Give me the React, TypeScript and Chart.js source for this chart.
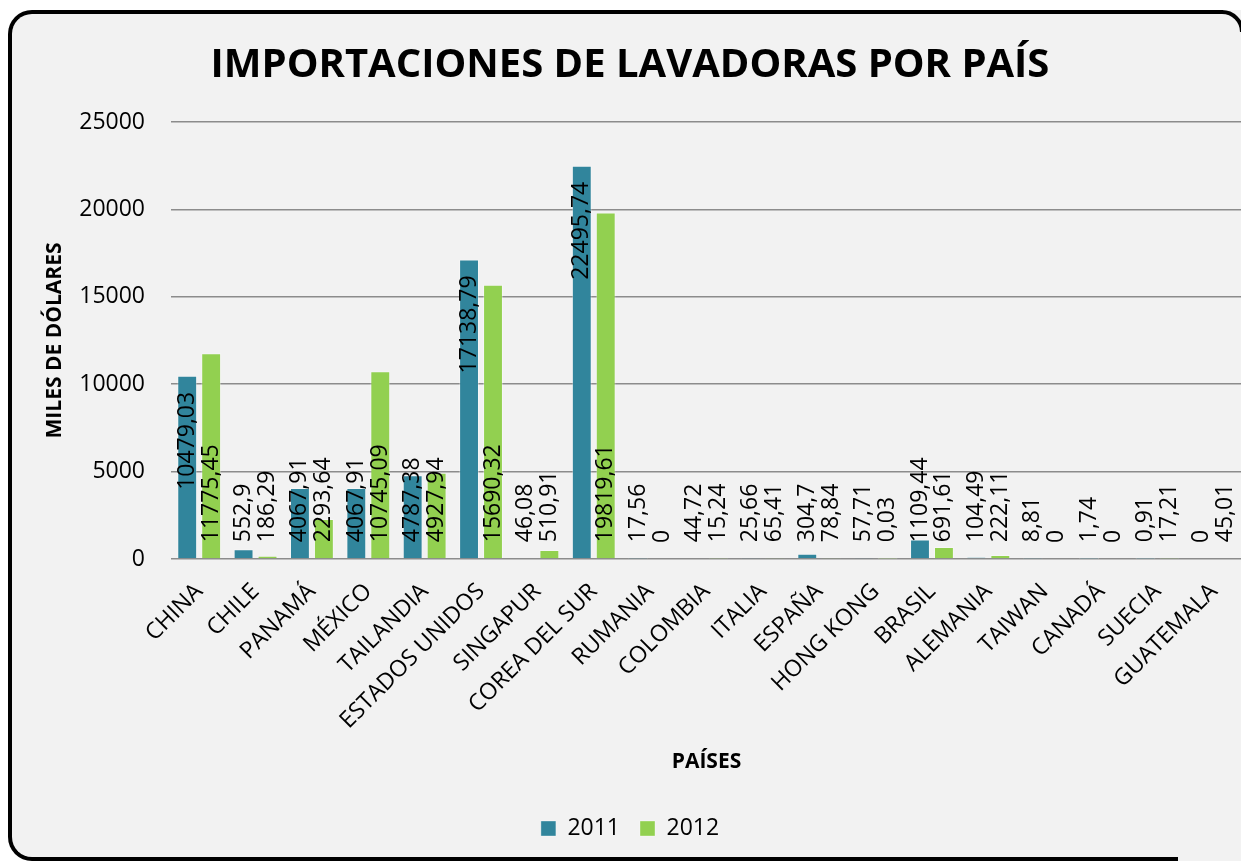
import React, { useEffect, useRef } from 'react';
import { Chart, registerables } from 'chart.js';

Chart.register(...registerables);

const categories = [
  'CHINA', 'CHILE', 'PANAMÁ', 'MÉXICO', 'TAILANDIA', 'ESTADOS UNIDOS', 'SINGAPUR',
  'COREA DEL SUR', 'RUMANIA', 'COLOMBIA', 'ITALIA', 'ESPAÑA', 'HONG KONG', 'BRASIL',
  'ALEMANIA', 'TAIWAN', 'CANADÁ', 'SUECIA', 'GUATEMALA',
];
const values2011 = [
  10479.03, 552.9, 4067.91, 4067.91, 4787.38, 17138.79, 46.08, 22495.74, 17.56, 44.72,
  25.66, 304.7, 57.71, 1109.44, 104.49, 8.81, 1.74, 0.91, 0,
];
const values2012 = [
  11775.45, 186.29, 2293.64, 10745.09, 4927.94, 15690.32, 510.91, 19819.61, 0, 15.24,
  65.41, 78.84, 0.03, 691.61, 222.11, 0, 0, 17.21, 45.01,
];
const seriesNames = ['2011', '2012'];
const yMin = 0;
const yMax = 25000;
const yStep = 5000;

const FONT = "'Open Sans', sans-serif";

const fmt = (v: number) => String(v).replace('.', ',');

const barLabels = {
  id: 'barLabels',
  afterDatasetsDraw(chart: any) {
    const ctx = chart.ctx as CanvasRenderingContext2D;
    ctx.save();
    ctx.font = `23px ${FONT}`;
    ctx.fillStyle = '#000';
    ctx.textBaseline = 'middle';
    chart.data.datasets.forEach((ds: any, di: number) => {
      const meta = chart.getDatasetMeta(di);
      const mode = ds.labelMode || 'base';
      meta.data.forEach((el: any, i: number) => {
        const text = fmt(ds.data[i]);
        const w = ctx.measureText(text).width;
        const { x, y, base } = el.getProps(['x', 'y', 'base'], true);
        const pad = 16;
        ctx.save();
        if (mode === 'end' && base - y >= w + 2 * pad) {
          ctx.translate(x, y + pad);
          ctx.rotate(-Math.PI / 2);
          ctx.textAlign = 'right';
        } else {
          ctx.translate(x, base - pad);
          ctx.rotate(-Math.PI / 2);
          ctx.textAlign = 'left';
        }
        ctx.fillText(text, 0, 0);
        ctx.restore();
      });
    });
    ctx.restore();
  },
};

export default function App() {
  const ref = useRef<HTMLCanvasElement | null>(null);

  useEffect(() => {
    if (!ref.current) return;
    Chart.defaults.font.family = FONT;
    Chart.defaults.color = '#000';
    const chart = new Chart(ref.current, {
      type: 'bar',
      data: {
        labels: categories,
        datasets: [
          {
            label: seriesNames[0],
            data: values2011,
            backgroundColor: '#31859c',
            borderColor: 'rgba(255,255,255,0.35)',
            borderWidth: 1,
            categoryPercentage: 0.85,
            barPercentage: 0.83,
            labelMode: 'end',
          } as any,
          {
            label: seriesNames[1],
            data: values2012,
            backgroundColor: '#92d050',
            borderColor: 'rgba(255,255,255,0.35)',
            borderWidth: 1,
            categoryPercentage: 0.85,
            barPercentage: 0.83,
            labelMode: 'base',
          } as any,
        ],
      },
      options: {
        responsive: false,
        devicePixelRatio: 1,
        animation: false,
        layout: { padding: { left: 10, right: 10, top: 0, bottom: 13 } },
        plugins: {
          title: {
            display: true,
            text: 'IMPORTACIONES DE LAVADORAS POR PAÍS',
            color: '#000',
            font: { size: 40, weight: 'bold', family: FONT },
            padding: { top: 42, bottom: 32 },
          },
          legend: {
            display: true,
            position: 'bottom',
            labels: {
              boxWidth: 15,
              boxHeight: 15,
              padding: 20,
              color: '#000',
              font: { size: 23, family: FONT },
            },
          },
          tooltip: { enabled: false },
        },
        scales: {
          x: {
            grid: { display: false },
            border: { display: false },
            ticks: {
              autoSkip: false,
              minRotation: 45,
              maxRotation: 45,
              padding: 11,
              color: '#000',
              font: { size: 23, family: FONT },
            },
            title: {
              display: true,
              text: 'PAÍSES',
              color: '#000',
              font: { size: 21, weight: 'bold', family: FONT },
              padding: { top: 0, bottom: 22 },
            },
            afterFit: (s: any) => {
              s.height = 238;
            },
          },
          y: {
            min: yMin,
            max: yMax,
            grid: { color: '#8c8c8c', lineWidth: 1.5, drawTicks: false },
            border: { display: false },
            ticks: {
              stepSize: yStep,
              padding: 26,
              color: '#000',
              font: { size: 23, family: FONT },
              callback: (v: any) => String(v),
            },
            title: {
              display: true,
              text: 'MILES DE DÓLARES',
              color: '#000',
              font: { size: 21, weight: 'bold', family: FONT },
              padding: { top: 24, bottom: 0 },
            },
            afterFit: (s: any) => {
              s.width = 153;
            },
          },
        },
      } as any,
      plugins: [barLabels],
    });
    return () => chart.destroy();
  }, []);

  return (
    <div
      style={{
        position: 'fixed',
        left: 0,
        top: 0,
        width: '100vw',
        height: '100vh',
        overflow: 'hidden',
        background: '#fff',
      }}
    >
      <div
        style={{
          position: 'absolute',
          left: 8,
          top: 10,
          width: 1242,
          height: 851,
          borderRadius: '24px 0 0 24px',
          background: '#f2f2f2',
        }}
      />
      <div
        style={{
          position: 'absolute',
          left: 8,
          top: 10,
          width: 1215,
          height: 430,
          boxSizing: 'border-box',
          borderTop: '4px solid #000',
          borderLeft: '4px solid #000',
          borderTopLeftRadius: 24,
        }}
      />
      <div
        style={{
          position: 'absolute',
          left: 8,
          top: 431,
          width: 1170,
          height: 430,
          boxSizing: 'border-box',
          borderBottom: '4px solid #000',
          borderLeft: '4px solid #000',
          borderBottomLeftRadius: 24,
        }}
      />
      <svg
        width={1241}
        height={60}
        style={{ position: 'absolute', left: 0, top: 0, overflow: 'hidden' }}
      >
        <path d="M 1222 12 A 20 20 0 0 1 1242 32" fill="none" stroke="#000" strokeWidth={4} />
        <rect x={1241} y={0} width={20} height={60} fill="#fff" />
      </svg>
      <canvas
        ref={ref}
        width={1244}
        height={863}
        style={{ position: 'absolute', left: 8, top: 0, width: 1244, height: 863 }}
      />
    </div>
  );
}
